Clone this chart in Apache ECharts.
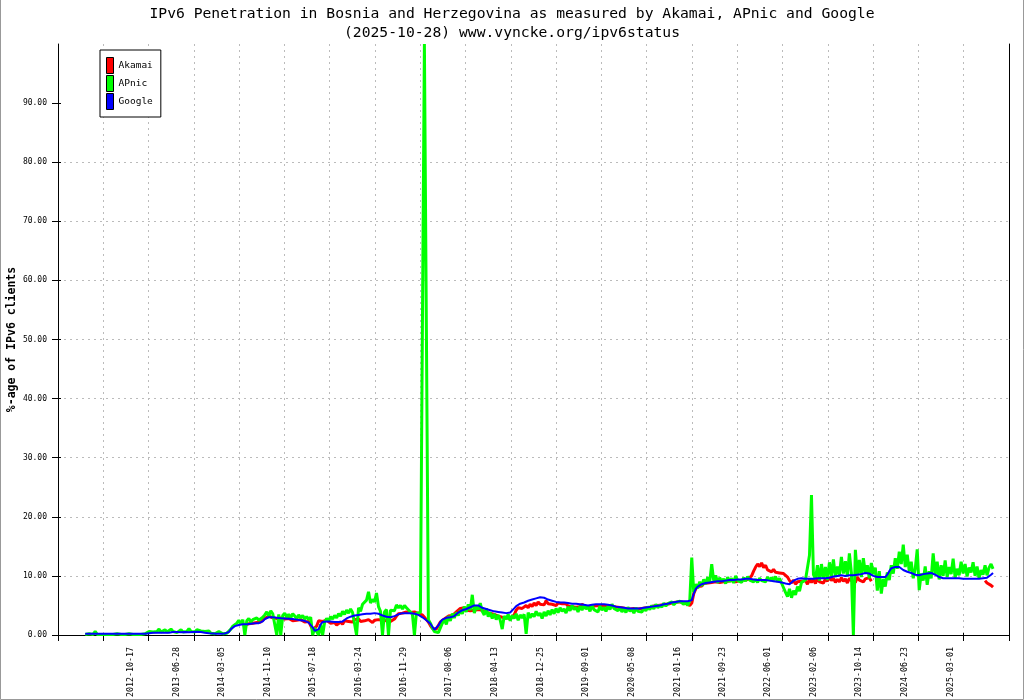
<!DOCTYPE html>
<html>
<head>
<meta charset="utf-8">
<script src="https://cdn.jsdelivr.net/npm/echarts@6/dist/echarts.min.js"></script>
<style>
html,body{margin:0;padding:0;background:#fff;}
#chart{width:1024px;height:700px;}
</style>
</head>
<body>
<div id="chart"></div>
<script>
// ---- data ----
const titleLines = ['IPv6 Penetration in Bosnia and Herzegovina as measured by Akamai, APnic and Google', '(2025-10-28) www.vyncke.org/ipv6status'];
const yAxisName = '%-age of IPv6 clients';
const seriesNames = ['Akamai', 'APnic', 'Google'];
const seriesColors = ['#ff0000', '#00ff00', '#0000ff'];
const xLabelDates = ['2012-10-17','2013-06-28','2014-03-05','2014-11-10','2015-07-18','2016-03-24','2016-11-29','2017-08-06','2018-04-13','2018-12-25','2019-09-01','2020-05-08','2021-01-16','2021-09-23','2022-06-01','2023-02-06','2023-10-14','2024-06-23','2025-03-01'];
const xAxisStart = '2011-09-11';
const xAxisEnd = '2026-01-18';
const yTickValues = [0, 10, 20, 30, 40, 50, 60, 70, 80, 90];
// samples every 11 days starting at sampleStart
const sampleStart = '2012-02-08';
const sampleStepDays = 11;

const akamaiValues = [
null,null,null,null,null,null,null,null,null,null,null,null,null,null,null,null,null,null,null,null,
null,null,null,null,null,null,null,null,null,null,null,null,null,null,null,null,null,null,null,null,
null,null,null,null,null,null,null,null,null,null,null,null,null,null,null,null,null,null,null,null,
null,null,null,null,null,null,null,null,null,null,null,null,null,null,null,null,null,null,null,null,
1.7,1.8,1.9,1.8,2.0,1.9,2.1,2.0,2.2,2.4,2.8,3.1,3.2,3.0,2.9,3.1,2.8,2.7,2.9,2.6,
2.7,2.5,2.8,2.6,2.4,2.7,2.5,2.3,2.6,2.4,2.2,2.5,2.3,1.6,0.9,0.8,1.5,2.4,2.5,2.3,
2.3,2.5,2.2,2.0,1.8,2.1,1.7,1.9,2.2,1.8,2.4,2.6,2.3,2.5,2.2,2.6,2.4,2.7,2.3,2.5,
2.4,2.2,2.6,2.3,2.1,2.5,2.2,2.6,2.3,2.5,2.2,2.4,2.6,2.3,2.5,2.7,3.2,3.6,3.8,3.7,
3.6,3.9,3.7,3.8,3.5,3.9,3.7,3.6,3.9,3.4,3.0,2.6,2.2,1.6,1.1,0.8,1.0,1.6,2.2,2.5,
2.7,3.0,3.2,3.4,3.3,3.6,3.9,4.2,4.5,4.3,4.6,4.2,4.5,4.1,4.4,4.2,4.0,4.3,4.1,4.2,
4.0,3.8,4.1,3.7,3.9,3.5,3.6,3.2,3.4,3.0,3.1,2.9,3.2,2.8,3.0,3.4,4.2,4.6,4.8,4.5,
4.7,5.0,4.6,5.2,4.8,5.4,5.0,5.6,5.2,5.5,5.1,5.8,5.3,5.6,5.2,5.5,5.0,5.4,5.1,5.3,
5.0,5.3,4.9,5.2,4.8,5.1,4.7,5.0,4.8,5.2,4.9,4.7,5.0,4.8,5.1,4.9,4.7,5.0,4.8,4.9,
4.8,5.0,4.7,4.9,4.6,4.8,4.5,4.7,4.4,4.6,4.3,4.5,4.2,4.4,4.3,4.5,4.2,4.4,4.3,4.5,
4.4,4.6,4.5,4.7,4.6,4.9,4.7,5.0,4.8,5.1,4.9,5.2,5.0,5.3,5.2,5.5,5.3,5.6,5.4,5.6,
5.5,5.3,5.2,5.0,5.4,7.0,7.8,8.2,8.5,8.3,8.7,8.4,8.8,8.5,8.9,8.6,9.0,8.7,8.9,8.6,
9.0,8.7,9.1,8.8,9.2,8.9,9.0,8.8,9.2,9.0,9.3,9.0,9.4,9.1,10.0,10.8,11.5,12.0,11.6,12.2,
11.4,11.8,11.0,11.3,10.7,11.1,10.6,10.9,10.5,10.8,10.4,10.6,9.8,9.2,8.8,9.3,8.6,9.0,8.7,9.1,
8.8,9.2,8.6,9.4,8.9,9.5,8.7,9.6,9.0,9.3,8.8,9.5,9.1,9.8,9.2,9.6,8.9,9.4,9.0,9.7,
9.1,9.5,8.8,9.6,9.2,9.4,8.9,9.8,9.3,9.6,9.0,9.5,9.2,9.7,9.1,null,null,null,null,null,
null,null,null,null,null,null,null,null,null,null,null,null,null,null,null,null,null,null,null,null,
null,null,null,null,null,null,null,null,null,null,null,null,null,null,null,null,null,null,null,null,
null,null,null,null,null,null,null,null,null,null,null,9.2,8.8,9.0,8.4,8.1
];

const apnicValues = [
0.1,0.1,0.2,0.1,0.1,0.6,0.1,0.2,0.1,0.1,0.1,0.2,0.1,0.1,0.1,0.1,0.2,0.1,0.1,0.1,
0.1,0.1,0.2,0.1,0.1,0.2,0.1,0.2,0.1,0.1,0.2,0.1,0.6,0.9,0.5,0.8,0.6,1.0,0.5,0.7,
0.9,0.5,0.7,1.0,0.6,0.8,0.4,0.7,0.9,0.5,0.8,0.6,1.1,0.6,0.8,0.5,0.9,0.6,0.7,0.5,
0.6,0.4,0.7,0.3,0.5,0.2,0.4,0.6,0.3,0.2,0.4,0.3,0.6,1.0,1.5,1.3,2.0,2.5,1.8,2.6,
0.0,2.4,2.8,2.2,2.6,2.3,2.9,2.5,2.7,3.0,3.4,3.9,3.2,4.1,3.6,3.4,0.0,3.5,0.0,3.3,
3.7,3.0,3.5,2.9,3.6,3.2,2.8,3.4,2.9,3.3,2.7,3.1,2.6,3.0,0.0,1.2,1.5,0.0,1.8,0.0,
2.2,2.8,2.4,3.1,2.7,3.3,2.9,3.6,3.2,4.0,3.5,4.2,3.7,4.4,3.8,4.1,0.0,4.6,4.0,5.2,
5.2,5.9,7.3,5.4,6.0,5.6,7.1,4.8,4.0,0.0,3.9,4.3,0.0,4.2,4.5,4.1,5.1,4.6,5.0,4.4,
5.0,4.6,4.8,3.9,3.5,0.0,3.7,3.4,3.8,3.5,100,51.6,2.6,2.0,1.2,0.6,0.3,0.4,1.2,2.0,
2.6,1.8,3.2,2.4,3.6,2.9,3.8,3.3,4.2,3.6,4.8,3.9,5.2,4.2,6.8,3.7,4.9,4.3,5.4,4.0,
3.4,4.5,3.1,3.8,2.8,3.6,2.6,3.4,2.5,1.0,3.2,2.7,3.5,2.4,3.3,2.8,3.6,2.5,3.4,2.9,
3.5,0.2,3.8,2.9,3.6,3.1,4.0,3.3,3.7,2.8,3.9,3.2,4.1,3.4,4.3,3.6,4.5,3.8,4.6,4.0,
4.4,3.7,4.8,4.1,5.0,4.3,4.7,3.9,4.9,4.2,5.1,4.4,4.8,4.0,5.0,4.3,4.6,3.9,4.9,4.2,
4.7,4.0,4.9,4.3,5.2,4.5,4.8,4.1,4.6,3.9,4.5,3.8,4.7,4.0,4.4,3.7,4.6,4.0,4.3,3.9,
4.5,4.1,4.8,4.3,5.0,4.4,5.2,4.6,5.1,4.7,5.4,4.9,5.3,5.0,5.6,5.1,5.5,5.3,5.7,5.4,
5.2,5.6,5.0,5.8,13.1,7.2,8.6,7.9,9.0,8.3,9.4,8.6,9.8,9.0,12.0,9.2,10.1,8.8,9.7,9.1,
9.5,8.7,9.8,9.0,9.6,8.8,10.0,9.2,9.5,8.9,9.7,9.1,9.9,9.3,9.6,9.0,9.4,8.9,9.6,9.2,
9.5,9.0,9.8,9.2,9.7,9.3,9.9,9.0,9.6,8.8,8.0,7.2,6.5,7.8,6.3,7.5,6.8,8.2,7.4,8.9,
8.6,9.3,9.0,13.5,23.7,10.2,9.5,11.8,9.2,12.0,9.6,11.5,9.3,12.3,10.0,12.8,9.8,11.6,10.2,13.2,
10.4,12.5,9.9,13.8,10.6,0.0,14.4,10.1,12.7,9.8,13.0,10.5,11.8,9.6,12.2,10.3,11.4,7.5,10.8,7.0,
9.5,8.2,10.6,9.3,11.8,10.4,13.0,11.2,14.1,12.0,15.3,11.5,13.6,10.8,12.4,9.6,11.2,14.5,7.6,10.4,
9.2,11.6,8.5,10.8,9.6,13.8,10.2,12.4,9.4,11.8,10.0,12.6,9.8,11.5,10.3,12.9,9.7,11.2,10.1,12.4,
10.4,12.0,9.9,11.4,10.6,12.3,10.0,11.6,9.6,11.0,10.2,11.8,10.1,11.4,12.0,11.2
];

const googleValues = [
0.2,0.2,0.2,0.2,0.2,0.2,0.2,0.2,0.2,0.2,0.2,0.2,0.2,0.2,0.2,0.2,0.2,0.2,0.2,0.2,
0.2,0.2,0.2,0.2,0.2,0.2,0.2,0.2,0.2,0.2,0.2,0.2,0.3,0.35,0.4,0.4,0.4,0.4,0.4,0.4,
0.4,0.45,0.4,0.45,0.5,0.45,0.5,0.5,0.45,0.5,0.5,0.5,0.45,0.5,0.5,0.5,0.55,0.5,0.5,0.45,
0.4,0.35,0.3,0.3,0.25,0.2,0.2,0.2,0.2,0.2,0.25,0.3,0.5,1.0,1.3,1.5,1.6,1.7,1.75,1.8,
1.8,1.8,1.8,1.9,1.9,2.0,2.0,2.0,2.0,2.3,2.7,2.9,3.0,3.0,3.0,2.95,2.9,2.9,2.85,2.8,
2.8,2.8,2.75,2.7,2.7,2.65,2.6,2.6,2.5,2.5,2.4,2.3,2.1,1.8,1.3,0.7,0.5,1.0,1.8,2.2,
2.2,2.3,2.3,2.3,2.2,2.2,2.2,2.2,2.2,2.3,2.5,2.8,3.0,3.1,3.2,3.3,3.4,3.4,3.5,3.5,
3.5,3.6,3.6,3.6,3.7,3.7,3.7,3.6,3.4,3.3,3.2,3.1,3.0,3.0,3.1,3.2,3.3,3.5,3.6,3.7,
3.7,3.7,3.7,3.7,3.6,3.6,3.6,3.4,3.2,3.0,2.8,2.5,2.2,1.9,1.4,0.9,1.1,1.6,2.2,2.6,
2.8,2.9,3.0,3.0,3.0,3.2,3.5,3.8,4.0,4.2,4.3,4.4,4.5,4.7,4.8,5.0,5.1,5.0,4.8,4.6,
4.5,4.4,4.3,4.2,4.1,4.0,3.9,3.9,3.9,3.8,3.8,3.7,3.7,3.8,4.1,4.5,4.9,5.2,5.3,5.4,
5.5,5.6,5.8,5.9,6.0,6.1,6.2,6.3,6.4,6.5,6.3,6.1,6.0,5.9,5.8,5.7,5.6,5.6,5.5,5.5,
5.5,5.4,5.4,5.4,5.3,5.3,5.3,5.2,5.2,5.2,5.1,5.0,5.0,5.1,5.1,5.2,5.2,5.2,5.2,5.2,
5.2,5.1,5.1,5.0,5.0,4.9,4.8,4.8,4.7,4.6,4.6,4.5,4.5,4.5,4.5,4.5,4.5,4.5,4.5,4.6,
4.6,4.6,4.7,4.7,4.8,4.8,4.9,5.0,5.0,5.1,5.2,5.3,5.3,5.4,5.5,5.5,5.6,5.6,5.7,5.7,
5.7,5.8,5.7,5.5,5.9,7.0,7.8,8.2,8.5,8.6,8.7,8.8,8.8,8.9,9.0,9.0,9.0,9.1,9.1,9.1,
9.2,9.2,9.2,9.3,9.3,9.3,9.3,9.4,9.4,9.4,9.5,9.5,9.5,9.5,9.4,9.4,9.4,9.3,9.3,9.3,
9.3,9.3,9.2,9.2,9.1,9.1,9.0,9.0,9.0,8.9,8.8,8.7,8.6,8.6,8.8,9.2,9.4,9.5,9.6,9.6,
9.5,9.5,9.5,9.5,9.5,9.5,9.5,9.6,9.6,9.6,9.6,9.6,9.7,9.7,9.8,9.9,10.0,10.0,10.1,10.1,
10.0,10.0,10.0,10.1,10.1,10.1,10.2,10.2,10.3,10.3,10.4,10.5,10.5,10.4,10.2,10.0,9.9,9.8,9.8,9.8,
9.8,9.8,10.2,10.8,11.3,11.5,11.5,11.5,11.5,11.3,11.0,10.8,10.7,10.6,10.5,10.3,10.2,10.1,10.1,10.2,
10.3,10.3,10.4,10.5,10.5,10.4,10.2,10.0,9.8,9.6,9.6,9.6,9.6,9.6,9.6,9.6,9.6,9.6,9.6,9.6,
9.5,9.5,9.5,9.5,9.5,9.5,9.5,9.5,9.5,9.6,9.6,9.6,9.7,9.9,10.2,10.5
];

// ---- build ----
function utc(s){ const p = s.split('-').map(Number); return Date.UTC(p[0], p[1]-1, p[2]); }
function fmt(t){ const d = new Date(Number(t)); const z = n => (n<10?'0':'')+n; return d.getUTCFullYear()+'-'+z(d.getUTCMonth()+1)+'-'+z(d.getUTCDate()); }
const DAY = 86400000;
const t0 = utc(sampleStart);
function toPairs(vals){ return vals.map((v,i) => [t0 + i*sampleStepDays*DAY, v == null ? '-' : v]); }
const valueArrays = [akamaiValues, apnicValues, googleValues];
const lineWidths = [3, 3, 2];

const FONT = 'DejaVu Sans Mono';
const gridStyle = {color:'#bbbbbb', type:[2,4], width:1};

const option = {
  animation: false,
  backgroundColor: '#ffffff',
  title: {
    text: titleLines.join('\n'),
    left: 'center', top: 0,
    textStyle: {fontFamily: FONT, fontSize: 14.7, fontWeight: 'normal', color: '#000', lineHeight: 19}
  },
  legend: {
    data: seriesNames, orient: 'vertical', left: 100, top: 50,
    padding: [7, 8, 7, 6], itemWidth: 7, itemHeight: 16, itemGap: 1,
    icon: 'rect', itemStyle: {borderColor: '#000', borderWidth: 1},
    textStyle: {fontFamily: FONT, fontSize: 9.5, color: '#000'},
    backgroundColor: '#fff', borderColor: '#000', borderWidth: 1, borderRadius: 0
  },
  grid: {left: 58, right: 15, top: 44, bottom: 65, containLabel: false, outerBoundsMode: 'none'},
  xAxis: [
    {type: 'value', min: 0, max: 21, interval: 1, position: 'bottom',
     axisLine: {show: true, onZero: false, lineStyle: {color: '#000'}},
     axisTick: {show: true, length: 6, lineStyle: {color: '#000'}},
     axisLabel: {show: false},
     splitLine: {show: true, lineStyle: gridStyle}},
    {type: 'value', min: utc(xAxisStart), max: utc(xAxisEnd), position: 'bottom', scale: true,
     axisLine: {show: false, onZero: false}, axisTick: {show: false}, splitLine: {show: false},
     axisLabel: {customValues: xLabelDates.map(utc), rotate: 90, margin: 12, hideOverlap: false,
       formatter: v => fmt(v), fontFamily: FONT, fontSize: 8.3, color: '#000'}},
    {type: 'value', min: 0, max: 21, interval: 1, position: 'bottom',
     axisLine: {show: false, onZero: false},
     axisTick: {show: true, inside: true, length: 2, lineStyle: {color: '#000'}},
     axisLabel: {show: false}, splitLine: {show: false}}
  ],
  yAxis: [
    {type: 'value', min: 0, max: 100, interval: 10, position: 'left',
     name: yAxisName, nameLocation: 'middle', nameGap: 40, nameMoveOverlap: false,
     nameTextStyle: {fontFamily: FONT, fontWeight: 'bold', fontSize: 11.5, color: '#000'},
     axisLine: {show: true, onZero: false, lineStyle: {color: '#000'}},
     axisTick: {show: true, length: 6, customValues: yTickValues, lineStyle: {color: '#000'}},
     axisLabel: {customValues: yTickValues, formatter: v => Number(v).toFixed(2), margin: 11,
       fontFamily: FONT, fontSize: 8, color: '#000'},
     splitLine: {show: true, showMinLine: false, showMaxLine: false, lineStyle: gridStyle}},
    {type: 'value', min: 0, max: 100, interval: 10, position: 'right',
     axisLine: {show: true, onZero: false, lineStyle: {color: '#000'}},
     axisTick: {show: false}, axisLabel: {show: false}, splitLine: {show: false}},
    {type: 'value', min: 0, max: 100, interval: 10, position: 'left',
     axisLine: {show: false, onZero: false},
     axisTick: {show: true, inside: true, length: 3, customValues: yTickValues, lineStyle: {color: '#000'}},
     axisLabel: {show: false}, splitLine: {show: false}}
  ],
  series: seriesNames.map((name, k) => ({
    name: name, type: 'line', xAxisIndex: 1, yAxisIndex: 0,
    data: toPairs(valueArrays[k]),
    showSymbol: false, symbol: 'none', connectNulls: false,
    color: seriesColors[k],
    itemStyle: {color: seriesColors[k]},
    lineStyle: {color: seriesColors[k], width: lineWidths[k]},
    emphasis: {disabled: true}, silent: true, z: 2 + k
  })),
  graphic: [{
    type: 'polyline', silent: true,
    shape: {points: [[0.5, 0], [0.5, 699.5], [1023.5, 699.5], [1023.5, 0]]},
    style: {stroke: '#999', fill: null, lineWidth: 1}
  }]
};

const chart = echarts.init(document.getElementById('chart'), null, {renderer: 'canvas'});
chart.setOption(option);
</script>
</body>
</html>
